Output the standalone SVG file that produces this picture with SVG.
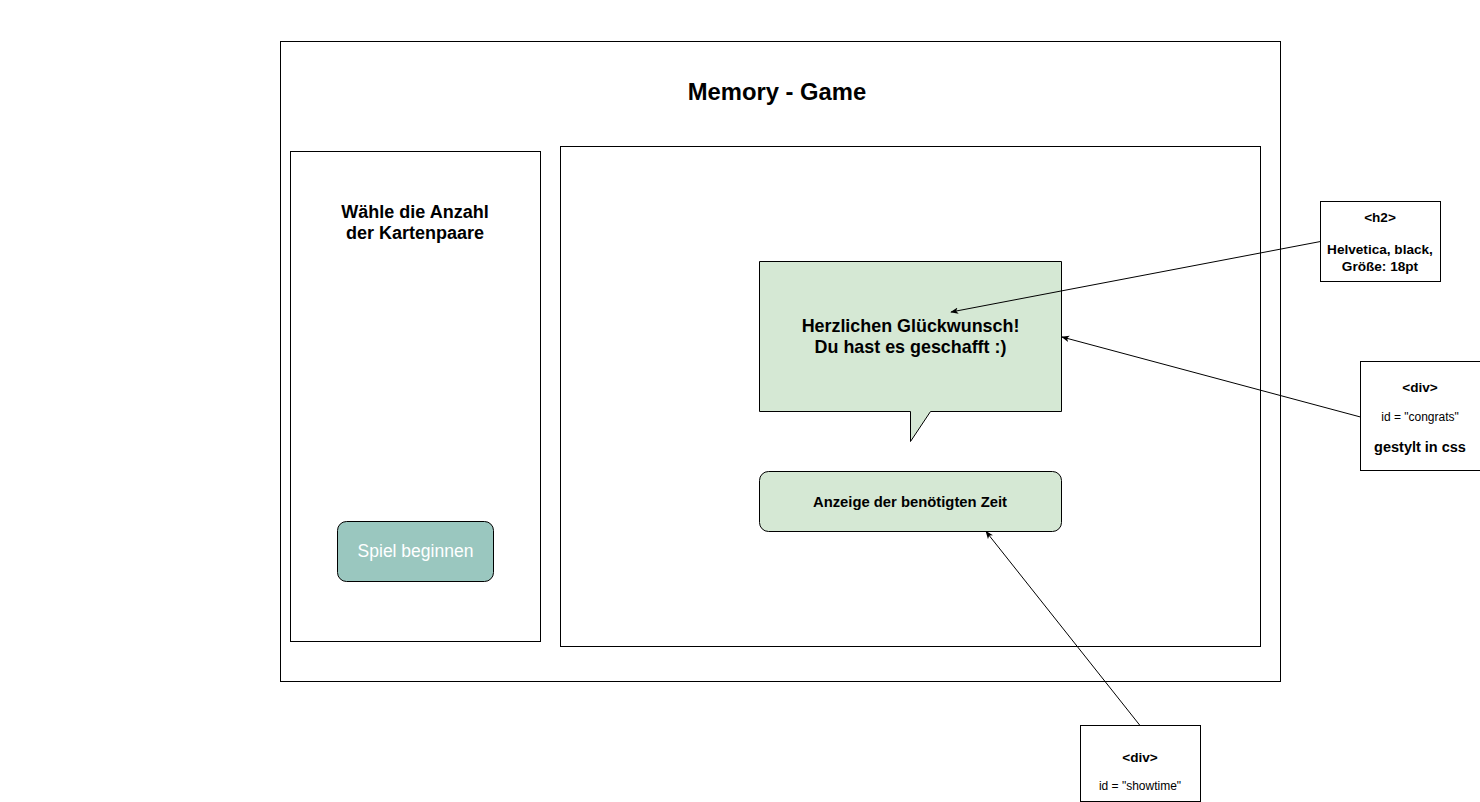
<svg xmlns="http://www.w3.org/2000/svg" width="1480" height="802" viewBox="0 0 1480 802">
<style>
text{font-family:"Liberation Sans",Arial,sans-serif;fill:#000;text-anchor:middle}
.b{font-weight:bold}
.box{fill:#fff;stroke:#000;stroke-width:1}
.green{fill:#d5e8d4;stroke:#000;stroke-width:1}
.conn{stroke:#000;stroke-width:1;fill:none;marker-end:url(#arr)}
</style>
<defs>
<marker id="arr" viewBox="0 0 10 10" refX="9" refY="5" markerWidth="8" markerHeight="8" orient="auto" markerUnits="userSpaceOnUse">
<path d="M0,1 L10,5 L0,9 L2.5,5 Z" fill="#000"/>
</marker>
</defs>
<rect width="1480" height="802" fill="#fff"/>
<g id="frame">
<rect class="box" x="280.5" y="41.5" width="1000" height="640"/>
<text class="b" x="777" y="100" font-size="23.8">Memory - Game</text>
</g>
<g id="left-panel">
<rect class="box" x="290.5" y="151.5" width="250" height="490"/>
<text class="b" x="415" y="218" font-size="18">Wähle die Anzahl</text>
<text class="b" x="415" y="239" font-size="18">der Kartenpaare</text>
</g>
<g id="start-button">
<rect x="337.5" y="521.5" width="156" height="60" rx="9" fill="#9ac7bf" stroke="#000"/>
<text x="415.5" y="557" font-size="17.5" style="fill:#fff">Spiel beginnen</text>
</g>
<g id="right-panel">
<rect class="box" x="560.5" y="146.5" width="700" height="500"/>
</g>
<g id="congrats">
<path class="green" d="M759.5,261.5 H1061.5 V411.5 H930.5 L910.5,441.5 V411.5 H759.5 Z"/>
<text class="b" x="910.5" y="332" font-size="17.9">Herzlichen Glückwunsch!</text>
<text class="b" x="910.5" y="353" font-size="17.9">Du hast es geschafft :)</text>
</g>
<g id="showtime">
<rect class="green" x="759.5" y="471.5" width="302" height="60" rx="9"/>
<text class="b" x="910" y="507" font-size="14.8">Anzeige der benötigten Zeit</text>
</g>
<g id="note-h2">
<rect class="box" x="1320.5" y="201.5" width="120" height="80"/>
<text class="b" x="1380" y="222" font-size="13.6">&lt;h2&gt;</text>
<text class="b" x="1380" y="254" font-size="13.6">Helvetica, black,</text>
<text class="b" x="1380" y="271" font-size="13.6">Größe: 18pt</text>
</g>
<g id="note-congrats">
<rect class="box" x="1360.5" y="361.5" width="120" height="109"/>
<text class="b" x="1420" y="392" font-size="13.6">&lt;div&gt;</text>
<text x="1420" y="421" font-size="12">id = "congrats"</text>
<text class="b" x="1420" y="452" font-size="14.5">gestylt in css</text>
</g>
<g id="note-showtime">
<rect class="box" x="1080.5" y="725.5" width="120" height="76"/>
<text class="b" x="1140" y="762" font-size="13.6">&lt;div&gt;</text>
<text x="1140" y="790" font-size="12">id = "showtime"</text>
</g>
<g id="connectors">
<line class="conn" x1="1320.5" y1="241.5" x2="951" y2="312"/>
<line class="conn" x1="1360.5" y1="417" x2="1062" y2="337"/>
<line class="conn" x1="1140" y1="725.5" x2="986" y2="531.5"/>
</g>
</svg>
